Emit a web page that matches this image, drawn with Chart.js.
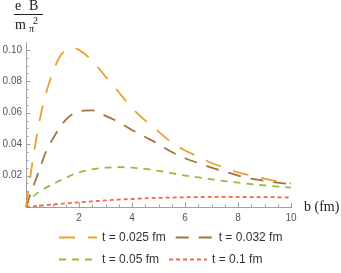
<!DOCTYPE html>
<html>
<head>
<meta charset="utf-8">
<script src="https://cdn.jsdelivr.net/npm/chart.js@4/dist/chart.umd.min.js"></script>
<style>
  body { margin: 0; background: #fff; }
  canvas { display: block; }
</style>
</head>
<body>
<canvas id="grafico" width="341" height="273"></canvas>
<script>
// b (fm) sample points
var bValues = [0, 0.1, 0.25, 0.5, 0.75, 1, 1.25, 1.5, 1.75, 2, 2.5, 3, 3.5, 4, 4.5, 5, 5.5, 6, 6.5, 7, 7.5, 8, 8.5, 9, 9.5, 10];

// eB / m_pi^2
var serieT025 = [0, 0.012, 0.029, 0.054, 0.072, 0.085, 0.095, 0.100, 0.1012, 0.100, 0.093, 0.083, 0.073, 0.063, 0.055, 0.048, 0.041, 0.036, 0.032, 0.028, 0.025, 0.022, 0.020, 0.018, 0.0163, 0.015];
var serieT032 = [0, 0.005, 0.012, 0.0235, 0.035, 0.043, 0.050, 0.0555, 0.059, 0.061, 0.0615, 0.058, 0.054, 0.049, 0.0445, 0.040, 0.035, 0.031, 0.028, 0.025, 0.0225, 0.020, 0.018, 0.0167, 0.0155, 0.0145];
var serieT05 = [0, 0.0038, 0.0065, 0.0097, 0.0122, 0.0145, 0.0166, 0.0186, 0.0205, 0.022, 0.024, 0.025, 0.0254, 0.025, 0.0242, 0.023, 0.0215, 0.020, 0.0188, 0.0176, 0.0165, 0.0155, 0.0145, 0.0137, 0.013, 0.0123];
var serieT1 = [0, 0.00015, 0.0004, 0.0008, 0.0012, 0.0016, 0.0019, 0.0023, 0.0026, 0.0030, 0.0036, 0.0042, 0.0047, 0.0051, 0.0055, 0.0058, 0.006, 0.0062, 0.0063, 0.0064, 0.0064, 0.0064, 0.0063, 0.0063, 0.0062, 0.0061];

var legendas = ['t = 0.025 fm', 't = 0.032 fm', 't = 0.05 fm', 't = 0.1 fm'];
var xTicks = [2, 4, 6, 8, 10];
var yTicks = [0.02, 0.04, 0.06, 0.08, 0.10];

function pontos(serie) {
  return bValues.map(function(b, i) { return { x: b, y: serie[i] }; });
}

function serieCfg(label, serie, cor, dash) {
  return {
    label: label,
    data: pontos(serie),
    borderColor: cor,
    backgroundColor: cor,
    borderWidth: 1.8,
    borderDash: dash,
    pointRadius: 0,
    cubicInterpolationMode: 'monotone',
    clip: 4
  };
}

// inward tick marks, mathematica style
var marcas = {
  id: 'marcas',
  afterDatasetsDraw: function(chart) {
    var ctx = chart.ctx, xs = chart.scales.x, ys = chart.scales.y;
    var y0 = ys.getPixelForValue(0), x0 = xs.getPixelForValue(0);
    ctx.save();
    ctx.strokeStyle = '#a0a0a0';
    ctx.lineWidth = 1;
    ctx.beginPath();
    for (var i = 1; i <= 20; i++) {
      var px = Math.round(xs.getPixelForValue(i * 0.5)) + 0.5;
      var len = i % 4 === 0 ? 4.5 : 2.5;
      ctx.moveTo(px, y0); ctx.lineTo(px, y0 - len);
    }
    for (var j = 1; j <= 20; j++) {
      var py = Math.round(ys.getPixelForValue(j * 0.005)) + 0.5;
      var len2 = j % 4 === 0 ? 4.5 : 2.5;
      ctx.moveTo(x0, py); ctx.lineTo(x0 + len2, py);
    }
    ctx.stroke();
    ctx.restore();
  }
};

// axis labels + legend
var textos = {
  id: 'textos',
  afterDraw: function(chart) {
    var ctx = chart.ctx;
    ctx.save();
    ctx.fillStyle = '#222';
    ctx.textBaseline = 'alphabetic';
    ctx.font = '14px "Liberation Serif", "DejaVu Serif", serif';
    ctx.fillText('b (fm)', 304, 211);

    // fraction eB / m_pi^2
    ctx.fillText('e', 15, 10);
    ctx.fillText('B', 29, 10);
    ctx.fillRect(14, 14, 29, 1);
    ctx.fillText('m', 15, 29);
    ctx.font = '10px "Liberation Serif", "DejaVu Serif", serif';
    ctx.fillText('\u03c0', 29, 32);
    ctx.fillText('2', 33, 24);

    // legend
    ctx.font = '12px "Liberation Sans", Arial, sans-serif';
    ctx.textBaseline = 'middle';
    var x = 59, linha = 0;
    chart.data.datasets.forEach(function(ds, k) {
      if (k > 0 && k % 2 === 0) { x = 59; linha++; }
      var y = 237.5 + linha * 22;
      ctx.save();
      ctx.strokeStyle = ds.borderColor;
      ctx.lineWidth = ds.borderWidth;
      ctx.setLineDash(ds.borderDash);
      ctx.beginPath();
      ctx.moveTo(x, y); ctx.lineTo(x + 38, y);
      ctx.stroke();
      ctx.restore();
      ctx.fillStyle = '#333';
      ctx.fillText(ds.label, x + 43, y);
      x += 43 + ctx.measureText(ds.label).width + 10;
    });
    ctx.restore();
  }
};

new Chart(document.getElementById('grafico'), {
  type: 'line',
  data: {
    datasets: [
      serieCfg(legendas[0], serieT025, '#e9a12e', [16, 13]),
      serieCfg(legendas[1], serieT032, '#a2723f', [13, 10]),
      serieCfg(legendas[2], serieT05, '#93bd3e', [7, 6]),
      serieCfg(legendas[3], serieT1, '#f16a43', [4, 3])
    ]
  },
  options: {
    responsive: false,
    animation: false,
    layout: { padding: { left: 0, top: 42, right: 50, bottom: 46 } },
    plugins: { legend: { display: false }, tooltip: { enabled: false } },
    scales: {
      x: {
        type: 'linear', min: 0, max: 10,
        afterFit: function(s) { s.height = 20; },
        afterBuildTicks: function(s) { s.ticks = xTicks.map(function(v) { return { value: v }; }); },
        grid: { display: false, drawTicks: false },
        border: { display: true, color: '#a0a0a0', width: 1 },
        ticks: { color: '#555', padding: 5, font: { size: 10, family: '"Liberation Sans", Arial, sans-serif' } }
      },
      y: {
        min: 0, max: 0.105,
        afterFit: function(s) { s.width = 26; },
        afterBuildTicks: function(s) { s.ticks = yTicks.map(function(v) { return { value: v }; }); },
        grid: { display: false, drawTicks: false },
        border: { display: true, color: '#a0a0a0', width: 1 },
        ticks: { color: '#555', padding: 4, font: { size: 10, family: '"Liberation Sans", Arial, sans-serif' },
          callback: function(v) { return v.toFixed(2); } }
      }
    }
  },
  plugins: [marcas, textos]
});
</script>
</body>
</html>
